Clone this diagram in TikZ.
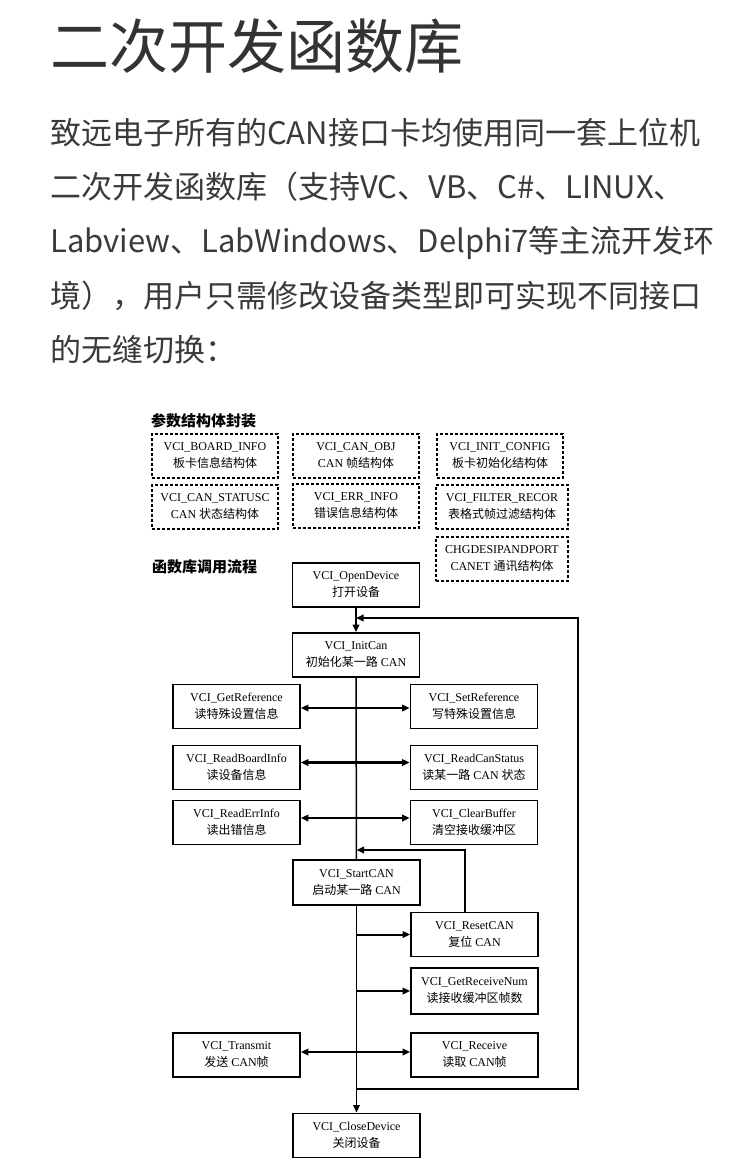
\documentclass[tikz,border=0pt]{standalone}
\usepackage{fontspec}
\setmainfont{Liberation Serif}
\newfontfamily\cjk{Noto Sans CJK SC}
\usetikzlibrary{arrows.meta}
\definecolor{titlec}{HTML}{333333}
\definecolor{parac}{HTML}{3A3A3A}
\newcommand\zh[1]{{\cjk\fontsize{12pt}{17pt}\selectfont #1}}
\begin{document}
\begin{tikzpicture}[x=1pt,y=-1pt,
  box/.style={draw, line width=1.8pt, minimum width=127pt, minimum height=44pt, inner sep=0pt, align=center, font=\fontsize{12pt}{17pt}\selectfont},
  dbox/.style={box, line width=1.6pt, dash pattern=on 3pt off 2pt, minimum width=126pt},
  para/.style={anchor=west, inner sep=0pt, text=parac, font=\cjk\fontsize{31pt}{31pt}\selectfont, text height=27.3pt, text depth=3.7pt},
  head/.style={anchor=west, inner sep=0pt, font=\cjk\bfseries\fontsize{15pt}{15pt}\selectfont, text height=13.2pt, text depth=1.8pt},
  tip/.tip={Triangle[length=7.5pt,width=6.5pt]},
  arr/.style={line width=2pt, -tip},
  darr/.style={line width=2.4pt, tip-tip},
  spine/.style={line width=1.5pt}]
\useasboundingbox (0,0) rectangle (750,1163);
\fill[white] (0,0) rectangle (750,1163);

% title and paragraph
\node[anchor=west, inner sep=0pt, text=titlec, font=\cjk\fontsize{59pt}{59pt}\selectfont, text height=51.9pt, text depth=7.1pt] (title) at (50,46) {二次开发函数库};
\node[para] (p1) at (50,133) {致远电子所有的CAN接口卡均使用同一套上位机};
\node[para] (p2) at (50,187) {二次开发函数库（支持VC、VB、C\#、LINUX、};
\node[para] (p3) at (50,241) {Labview、LabWindows、Delphi7等主流开发环};
\node[para] (p4) at (50,296) {境），用户只需修改设备类型即可实现不同接口};
\node[para] (p5) at (50,350) {的无缝切换：};

% headings
\node[head] (h1) at (151,421) {参数结构体封装};
\node[head] (h2) at (152,567) {函数库调用流程};

% dashed structure boxes
\node[dbox] (BI) at (215,456) {VCI\_BOARD\_INFO\\\zh{板卡信息结构体}};
\node[dbox] (CO) at (356,456) {VCI\_CAN\_OBJ\\CAN \zh{帧结构体}};
\node[dbox] (IC) at (500,456) {VCI\_INIT\_CONFIG\\\zh{板卡初始化结构体}};
\node[dbox] (CS) at (215,507) {VCI\_CAN\_STATUSC\\CAN \zh{状态结构体}};
\node[dbox] (EI) at (356,506) {VCI\_ERR\_INFO\\\zh{错误信息结构体}};
\node[dbox, minimum width=132pt] (FR) at (502,507) {VCI\_FILTER\_RECOR\\\zh{表格式帧过滤结构体}};
\node[dbox, minimum width=132pt] (CH) at (502,559) {CHGDESIPANDPORT\\CANET \zh{通讯结构体}};

% flow boxes
\node[box] (OD) at (356,585) {VCI\_OpenDevice\\\zh{打开设备}};
\node[box] (INIT) at (356,655) {VCI\_InitCan\\\zh{初始化某一路} CAN};
\node[box] (GR) at (236.5,706.5) {VCI\_GetReference\\\zh{读特殊设置信息}};
\node[box] (SR) at (474,706.5) {VCI\_SetReference\\\zh{写特殊设置信息}};
\node[box] (RB) at (236.5,767.5) {VCI\_ReadBoardInfo\\\zh{读设备信息}};
\node[box] (RS) at (474,767.5) {VCI\_ReadCanStatus\\\zh{读某一路} CAN \zh{状态}};
\node[box] (RE) at (236.5,822.5) {VCI\_ReadErrInfo\\\zh{读出错信息}};
\node[box] (CB) at (474,822.5) {VCI\_ClearBuffer\\\zh{清空接收缓冲区}};
\node[box, minimum height=45pt] (SC) at (356.5,882.5) {VCI\_StartCAN\\\zh{启动某一路} CAN};
\node[box] (RC) at (474.5,934.5) {VCI\_ResetCAN\\\zh{复位} CAN};
\node[box, minimum height=46pt] (GN) at (474.5,991) {VCI\_GetReceiveNum\\\zh{读接收缓冲区帧数}};
\node[box] (TR) at (236.5,1055) {VCI\_Transmit\\\zh{发送} CAN\zh{帧}};
\node[box] (RV) at (474.5,1055) {VCI\_Receive\\\zh{读取} CAN\zh{帧}};
\node[box] (CD) at (356.5,1135.5) {VCI\_CloseDevice\\\zh{关闭设备}};

% connectors
\draw[arr] (OD) -- (INIT);
\draw[spine] (INIT) -- (SC);
\draw[spine, -tip] (SC) -- (CD);
\draw[darr] ([yshift=-1.5pt]GR.east) -- ([yshift=-1.5pt]SR.west);
\draw[darr] ([yshift=5pt]RB.east) -- ([yshift=5pt]RS.west);
\draw[darr] ([yshift=4.5pt]RE.east) -- ([yshift=4.5pt]CB.west);
\draw[darr] ([yshift=3pt]TR.east) -- ([yshift=3pt]RV.west);
\draw[arr] (SC.south |- RC.west) -- (RC.west);
\draw[arr] (SC.south |- GN.west) -- (GN.west);

% reset loop back to StartCAN
\coordinate (rtop) at (465,850);
\draw[arr] ([xshift=-9.5pt]RC.north) -- (rtop) -- (SC.north |- rtop);

% main loop back to InitCan
\coordinate (lb) at (356,1089);
\coordinate (lr) at (578,1089);
\coordinate (lt) at (578,618);
\draw[arr] (lb) -- (lr) -- (lt) -- (OD.south |- lt);
\end{tikzpicture}
\end{document}
